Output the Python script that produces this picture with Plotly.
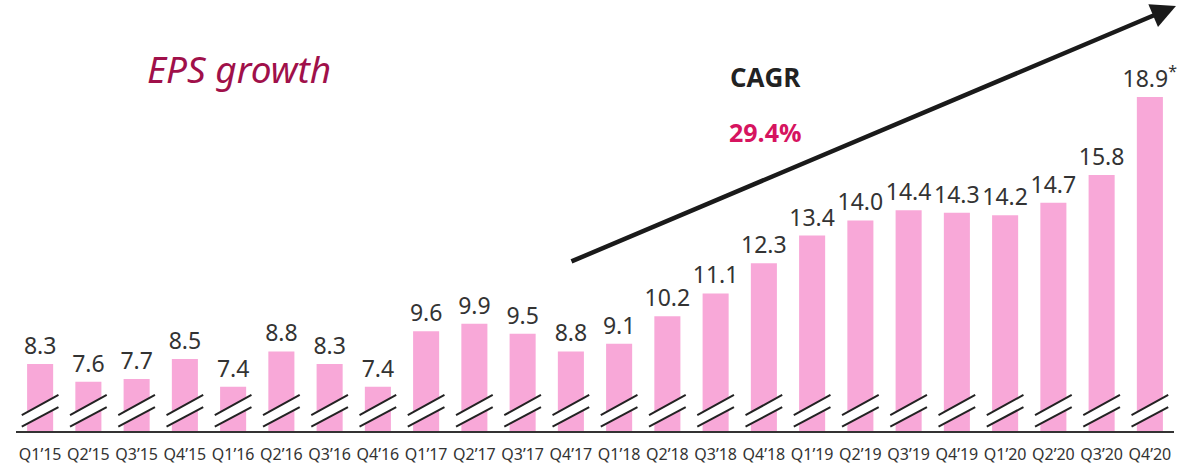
import plotly.graph_objects as go

quarters = ["Q1’15","Q2’15","Q3’15","Q4’15","Q1’16","Q2’16","Q3’16","Q4’16",
            "Q1’17","Q2’17","Q3’17","Q4’17","Q1’18","Q2’18","Q3’18","Q4’18",
            "Q1’19","Q2’19","Q3’19","Q4’19","Q1’20","Q2’20","Q3’20","Q4’20"]
eps = [8.3, 7.6, 7.7, 8.5, 7.4, 8.8, 8.3, 7.4, 9.6, 9.9, 9.5, 8.8,
       9.1, 10.2, 11.1, 12.3, 13.4, 14.0, 14.4, 14.3, 14.2, 14.7, 15.8, 18.9]
labels = [f"{v:.1f}" for v in eps]
labels[-1] = labels[-1] + "<sup>*</sup>"

BAR = "#F8A8D8"
idx = list(range(len(eps)))
ymin, ymax = 5.64, 22.75

fig = go.Figure(go.Bar(
    x=idx, y=eps, width=0.54, marker=dict(color=BAR, line=dict(width=0)),
    text=labels, textposition="outside", cliponaxis=False, constraintext="none",
    textfont=dict(family="Noto Sans", size=23, color="#333333"),
    hoverinfo="skip"))

shapes = []
hw = 0.38
for i in idx:
    # white gap of the axis-break mark
    shapes.append(dict(type="path", xref="x", yref="y",
                       path=f"M {i-hw} 5.81 L {i+hw} 6.59 L {i+hw} 7.07 L {i-hw} 6.27 Z",
                       fillcolor="white", line=dict(width=0), layer="above"))
    for y0, y1 in [(5.81, 6.59), (6.27, 7.07)]:
        shapes.append(dict(type="line", xref="x", yref="y", x0=i-hw, x1=i+hw,
                           y0=y0, y1=y1, line=dict(color="#222222", width=2),
                           layer="above"))

fig.update_layout(
    width=1186, height=464,
    margin=dict(l=16, r=12, t=0, b=33),
    paper_bgcolor="white", plot_bgcolor="white",
    showlegend=False,
    shapes=shapes,
    xaxis=dict(range=[-0.5, 23.5], tickvals=idx, ticktext=quarters,
               showgrid=False, zeroline=False, showline=True,
               linecolor="#333333", linewidth=2, ticks="",
               ticklabelstandoff=8,
               tickfont=dict(family="Noto Sans", size=16, color="#333333")),
    yaxis=dict(range=[ymin, ymax], visible=False, showgrid=False),
    annotations=[
        dict(text="<i>EPS growth</i>", xref="paper", yref="paper", x=0.193, y=0.842,
             xanchor="center", yanchor="middle", showarrow=False,
             font=dict(family="Noto Sans", size=37, color="#A0104A")),
        dict(text="<b>CAGR</b>", xref="paper", yref="paper", x=0.647, y=0.821,
             xanchor="center", yanchor="middle", showarrow=False,
             font=dict(family="Open Sans", size=26, color="#222222")),
        dict(text="<b>29.4%</b>", xref="paper", yref="paper", x=0.647, y=0.694,
             xanchor="center", yanchor="middle", showarrow=False,
             font=dict(family="Open Sans", size=25, color="#D6145F")),
        dict(text="", xref="paper", yref="paper", x=1.0017, y=0.986,
             ax=-606, ay=256, axref="pixel", ayref="pixel",
             showarrow=True, arrowhead=2, arrowsize=1.1, arrowwidth=4.5,
             arrowcolor="#1a1a1a"),
    ],
)

fig.write_html("out.html", config={"displayModeBar": False},
               post_script="document.body.style.margin='0';")
